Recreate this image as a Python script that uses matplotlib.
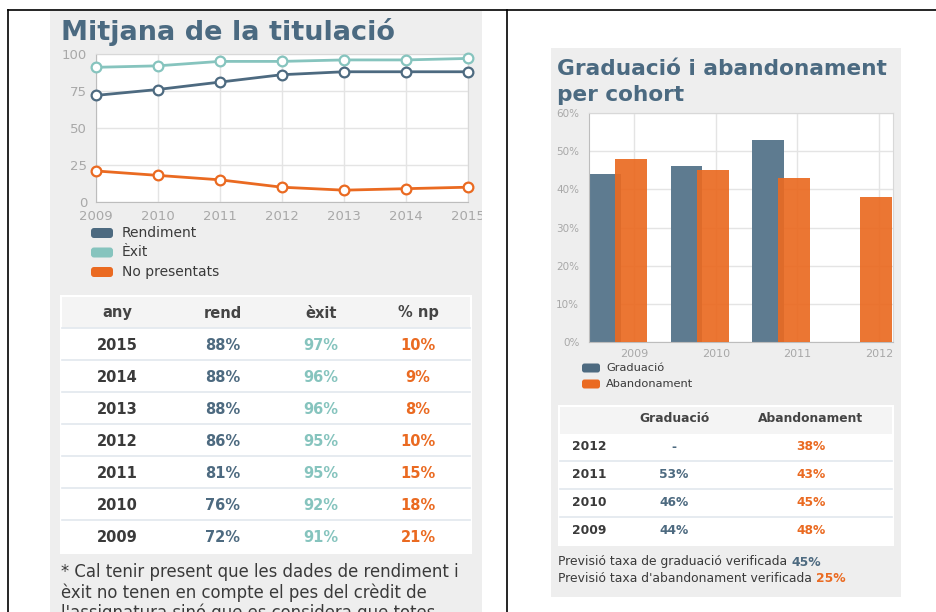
import matplotlib
matplotlib.use("Agg")
import matplotlib.pyplot as plt
from matplotlib.patches import Rectangle, FancyBboxPatch
from matplotlib.transforms import Bbox, TransformedBbox
import numpy as np

plt.rcParams['font.family'] = ['DejaVu Sans']

# --- data: left panel ---
years = [2009, 2010, 2011, 2012, 2013, 2014, 2015]
rendiment = [72, 76, 81, 86, 88, 88, 88]
exit_ = [91, 92, 95, 95, 96, 96, 97]
no_presentats = [21, 18, 15, 10, 8, 9, 10]
left_legend = ['Rendiment', 'Èxit', 'No presentats']
left_headers = ['any', 'rend', 'èxit', '% np']

# --- data: right panel ---
cohorts = [2009, 2010, 2011, 2012]
graduacio = [44, 46, 53, None]
abandonament = [48, 45, 43, 38]
right_legend = ['Graduació', 'Abandonament']
right_headers = ['', 'Graduació', 'Abandonament']
prev_grad = 45
prev_aband = 25

SLATE = '#4d6a80'
TEAL = '#86c4be'
ORANGE = '#ea6a21'
TITLE = '#4b6a81'
PANEL = '#eeeeee'
GRID = '#e4e4e4'
TICK = '#a8a8a8'
DARK = '#3a3a3a'

W, H = 936, 612
fig = plt.figure(figsize=(W / 100, H / 100), dpi=100)
base = fig.add_axes([0, 0, 1, 1], zorder=0)
base.set_xlim(0, W)
base.set_ylim(H, 0)
base.axis('off')


def ax_at(x0, y0, x1, y1):
    return fig.add_axes([x0 / W, 1 - y1 / H, (x1 - x0) / W, (y1 - y0) / H], zorder=2)


# page frame lines
base.plot([8, W], [10, 10], color='black', lw=1.2)
base.plot([8, 8], [10, H], color='black', lw=1.2)
base.plot([507, 507], [10, H], color='black', lw=1.2)

# gray panels
base.add_patch(Rectangle((50, 11), 432, H - 11, color=PANEL, lw=0))
base.add_patch(Rectangle((551, 48), 350, 549, color=PANEL, lw=0))

# titles
base.text(61, 40, 'Mitjana de la titulació', fontsize=19.5, fontweight='bold',
          color=TITLE, va='baseline')
base.text(557, 75, 'Graduació i abandonament', fontsize=15.6, fontweight='bold',
          color=TITLE, va='baseline')
base.text(557, 101, 'per cohort', fontsize=15.6, fontweight='bold',
          color=TITLE, va='baseline')

# left line chart
ax1 = ax_at(95.5, 54, 468, 202)
ax1.set_facecolor('white')
for vals, c in [(exit_, TEAL), (rendiment, SLATE), (no_presentats, ORANGE)]:
    ax1.plot(years, vals, color=c, lw=2, marker='o', ms=7, mfc='white',
             mec=c, mew=1.6, zorder=3, clip_on=False)
ax1.set_xlim(2009, 2015)
ax1.set_ylim(0, 100)
ax1.set_xticks(years)
ax1.set_yticks([0, 25, 50, 75, 100])
ax1.grid(True, color=GRID, lw=1)
ax1.tick_params(length=0, labelsize=9.5, labelcolor=TICK, pad=6)
for s in ax1.spines.values():
    s.set_color('#d8d8d8')
ax1.spines['left'].set_color('#bdbdbd')
ax1.spines['bottom'].set_color('#bdbdbd')
# year labels are cut at the edge of the gray panel
panel_box = TransformedBbox(Bbox([[50, 0], [482, H]]), base.transData)
for lab in ax1.get_xticklabels():
    lab.set_clip_box(panel_box)
    lab.set_clip_on(True)

# left legend
for i, (lab, c) in enumerate(zip(left_legend, [SLATE, TEAL, ORANGE])):
    y = 233 + i * 19.5
    base.add_patch(FancyBboxPatch((92, y - 4), 20, 8, boxstyle='round,pad=1,rounding_size=3',
                                  color=c, lw=0))
    base.text(122, y, lab, fontsize=10, color=DARK, va='center')

# left table
base.add_patch(Rectangle((60, 295), 412, 259, color='white', lw=0))
base.add_patch(Rectangle((62, 297), 408, 31, color='#f4f4f4', lw=0))
col_x = [117, 223, 321, 418]
for x, h in zip(col_x, left_headers):
    base.text(x, 313, h, fontsize=10.5, fontweight='bold', color='#444444',
              ha='center', va='center')
row_h = 32
for i in range(len(years)):
    j = len(years) - 1 - i
    y = 345 + i * row_h
    base.plot([62, 470], [y - 17, y - 17], color='#e2e8ee', lw=1.2)
    base.text(col_x[0], y, str(years[j]), fontsize=10.5, fontweight='bold',
              color=DARK, ha='center', va='center')
    base.text(col_x[1], y, f'{rendiment[j]}%', fontsize=10.5, fontweight='bold',
              color=SLATE, ha='center', va='center')
    base.text(col_x[2], y, f'{exit_[j]}%', fontsize=10.5, fontweight='bold',
              color=TEAL, ha='center', va='center')
    base.text(col_x[3], y, f'{no_presentats[j]}%', fontsize=10.5, fontweight='bold',
              color=ORANGE, ha='center', va='center')

note = ['* Cal tenir present que les dades de rendiment i',
        'èxit no tenen en compte el pes del crèdit de',
        "l'assignatura sinó que es considera que totes"]
for i, line in enumerate(note):
    base.text(61, 572 + i * 20.5, line, fontsize=11.9, color=DARK, va='center')

# right bar chart
ax2 = ax_at(589, 113, 893, 342)
ax2.set_facecolor('white')
cx = np.array(cohorts, dtype=float)
g_vals = [v if v is not None else 0 for v in graduacio]
ax2.bar(cx - 0.552, g_vals, width=0.39, align='edge', color='#5e7b90', zorder=2)
ax2.bar(cx - 0.233, abandonament, width=0.39, align='edge', color=ORANGE,
        alpha=0.92, zorder=3)
ax2.set_xlim(cohorts[0] - 0.552, cohorts[-1] + 0.172)
ax2.set_ylim(0, 60)
ax2.set_xticks(cohorts)
ax2.set_yticks(range(0, 61, 10))
ax2.set_yticklabels([f'{v}%' for v in range(0, 61, 10)])
ax2.grid(True, color=GRID, lw=1, zorder=0)
ax2.set_axisbelow(True)
ax2.tick_params(length=0, labelsize=7.5, labelcolor=TICK, pad=7)
ax2.tick_params(axis='x', labelsize=8, pad=5)
for s in ax2.spines.values():
    s.set_color('#d8d8d8')
ax2.spines['left'].set_color('#bdbdbd')
ax2.spines['bottom'].set_color('#bdbdbd')

# right legend
for i, (lab, c) in enumerate(zip(right_legend, [SLATE, ORANGE])):
    y = 368 + i * 16
    base.add_patch(FancyBboxPatch((583, y - 3.5), 16, 7, boxstyle='round,pad=1,rounding_size=2.5',
                                  color=c, lw=0))
    base.text(606, y, lab, fontsize=8.2, color=DARK, va='center')

# right table
base.add_patch(Rectangle((558, 405), 336, 141, color='white', lw=0))
base.add_patch(Rectangle((560, 407), 332, 27, color='#f4f4f4', lw=0))
rcol_x = [589, 674, 811]
for x, h in zip(rcol_x, right_headers):
    base.text(x, 419, h, fontsize=8.8, fontweight='bold', color='#444444',
              ha='center', va='center')
for i in range(len(cohorts)):
    j = len(cohorts) - 1 - i
    y = 447 + i * 28
    if i > 0:
        base.plot([560, 892], [y - 14, y - 14], color='#e2e8ee', lw=1.2)
    base.text(rcol_x[0], y, str(cohorts[j]), fontsize=8.8, fontweight='bold',
              color=DARK, ha='center', va='center')
    g = '-' if graduacio[j] is None else f'{graduacio[j]}%'
    base.text(rcol_x[1], y, g, fontsize=8.8, fontweight='bold',
              color=SLATE, ha='center', va='center')
    base.text(rcol_x[2], y, f'{abandonament[j]}%', fontsize=8.8, fontweight='bold',
              color=ORANGE, ha='center', va='center')

t = base.text(558, 562, 'Previsió taxa de graduació verificada ', fontsize=8.9,
              color=DARK, va='center')
base.annotate(f'{prev_grad}%', xycoords=t, xy=(1, 0.5), va='center', fontsize=8.9,
              color=SLATE, fontweight='bold')
t = base.text(558, 579, "Previsió taxa d'abandonament verificada ", fontsize=8.9,
              color=DARK, va='center')
base.annotate(f'{prev_aband}%', xycoords=t, xy=(1, 0.5), va='center', fontsize=8.9,
              color=ORANGE, fontweight='bold')

fig.savefig('out.png', dpi=100)
